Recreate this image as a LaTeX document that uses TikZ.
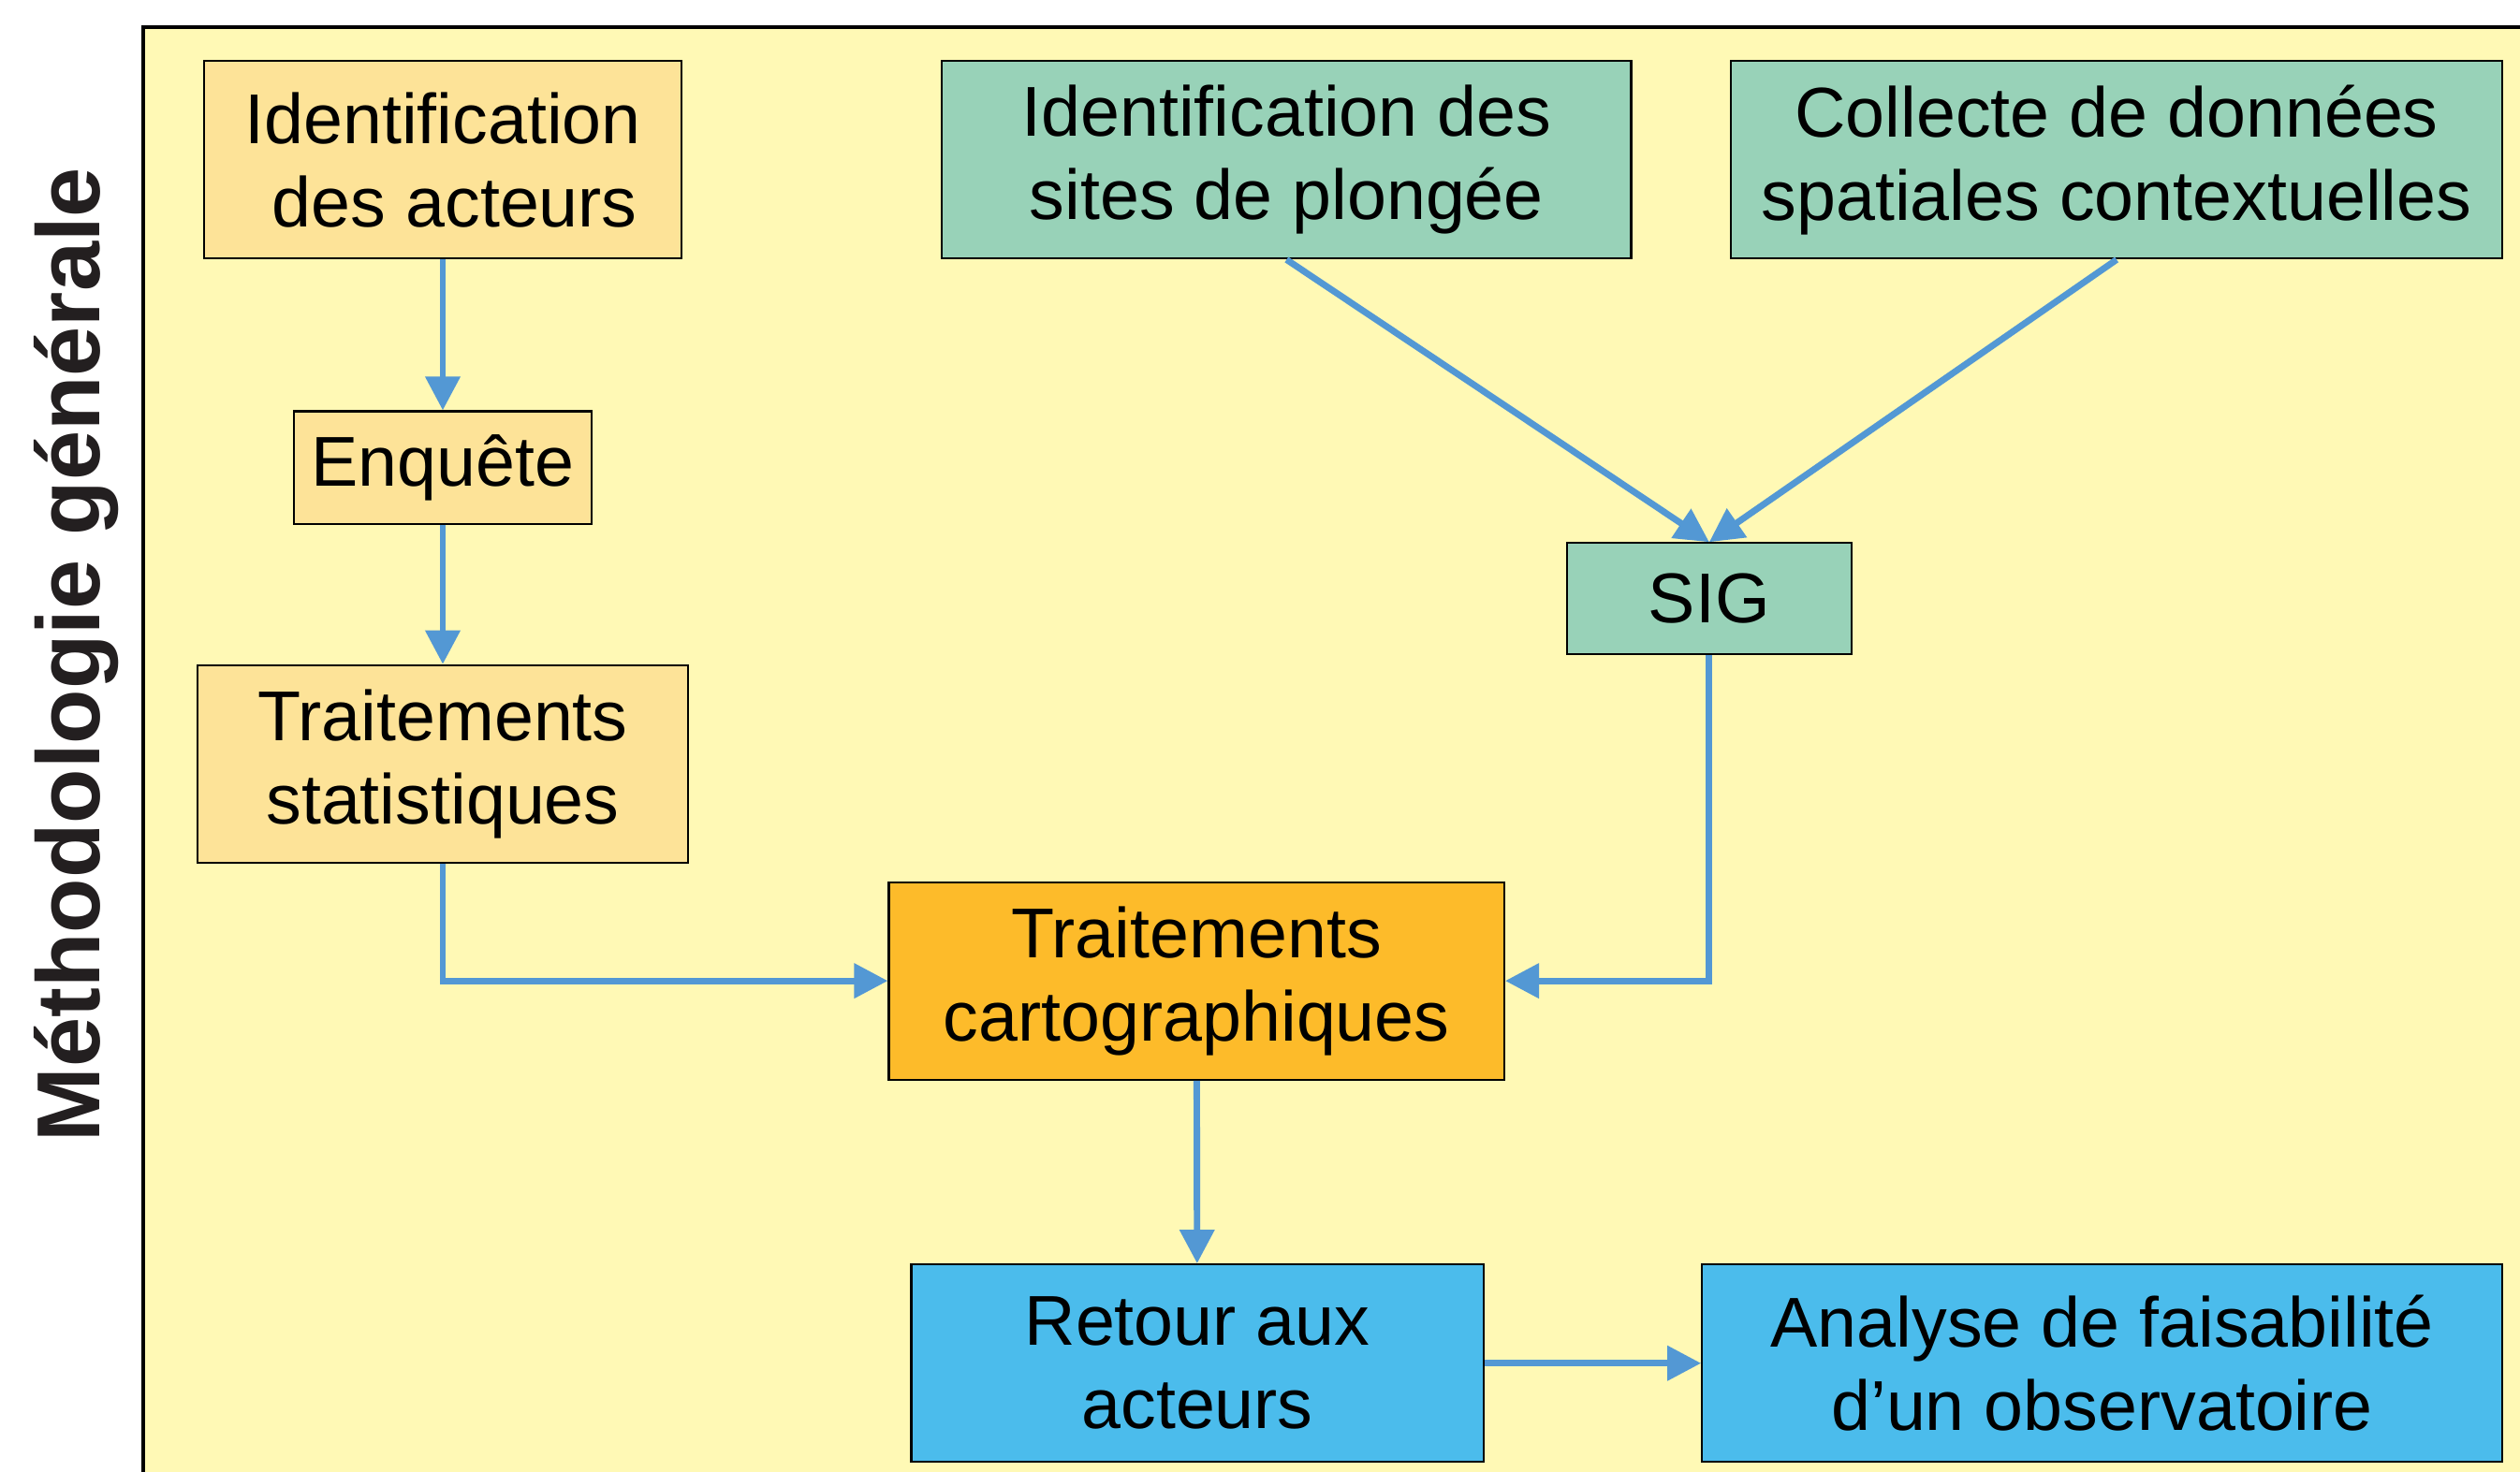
\documentclass[tikz,border=0pt]{standalone}
\usepackage{fontspec}
\setmainfont{Liberation Sans}
\usepackage{xcolor}
\usetikzlibrary{arrows.meta}
\definecolor{paleyellow}{RGB}{255,249,181}
\definecolor{paleorange}{RGB}{253,227,152}
\definecolor{seagreen}{RGB}{152,210,184}
\definecolor{deeporange}{RGB}{253,187,42}
\definecolor{skyblue}{RGB}{75,188,236}
\definecolor{flowblue}{RGB}{83,152,212}
\definecolor{inkgrey}{RGB}{35,31,32}

\begin{document}
\begin{tikzpicture}[x={(0.02cm,0cm)},y={(0cm,-0.02cm)},
                    box/.style={draw=black,line width=0.7pt,align=center,inner sep=0pt,
                                font=\fontsize{25}{29.5}\selectfont,minimum height=2.46cm},
                    flow/.style={-{Triangle[length=0.42cm,width=0.42cm]},line width=2.3pt,draw=flowblue}]
\useasboundingbox (0,0) rectangle (1568,916);
\fill[white] (0,0) rectangle (1568,916);
\fill[paleyellow] (89,17) rectangle (1568,916);
\draw[line width=1.5pt] (89,916) |- (1568,17);

\node[rotate=90,anchor=base,text=inkgrey,font=\bfseries\fontsize{31.7}{36}\selectfont] (titre) at (62,407.5) {Méthodologie générale};

% left column
\node[box,fill=paleorange,minimum width=5.94cm] (acteurs) at (275.5,99.5) {Identification\\\hspace*{0.3cm}des acteurs};
\node[box,fill=paleorange,minimum width=3.7cm,minimum height=1.4cm] (enquete) at (275.5,291) {Enquête};
\node[box,fill=paleorange,minimum width=6.1cm] (stats) at (275.5,475.5) {Traitements\\statistiques};

% right column
\node[box,fill=seagreen,minimum width=8.58cm] (sites) at (800.5,99.5) {Identification des\\sites de plongée};
\node[box,fill=seagreen,minimum width=9.6cm] (collecte) at (1317,99.5) {Collecte de données\\spatiales contextuelles};
\node[box,fill=seagreen,minimum width=3.54cm,minimum height=1.38cm] (sig) at (1063.5,372.5) {SIG};

\node[box,fill=deeporange,minimum width=7.66cm] (carto) at (744.5,610.5) {Traitements\\cartographiques};
\node[box,fill=skyblue,minimum width=7.12cm] (retour) at (745,848.5) {Retour aux\\acteurs};
\node[box,fill=skyblue,minimum width=9.96cm] (analyse) at (1308,848.5) {Analyse de faisabilité\\d’un observatoire};

\draw[flow] (acteurs) -- (enquete);
\draw[flow] (enquete) -- (stats);
\draw[flow] (stats.south) |- (carto.west);
\draw[flow] (sites.south) -- (sig.north);
\draw[flow] (collecte.south) -- (sig.north);
\draw[flow] (sig.south) |- (carto.east);
\draw[flow] (carto) -- (retour);
\draw[flow] (retour) -- (analyse);
\end{tikzpicture}
\end{document}
